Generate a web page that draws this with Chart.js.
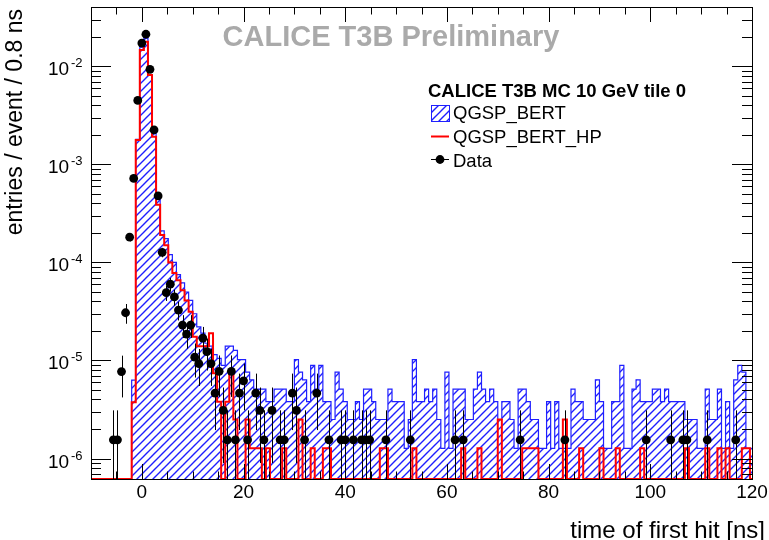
<!DOCTYPE html>
<html>
<head>
<meta charset="utf-8">
<title>T3B time of first hit</title>
<script src="https://cdn.jsdelivr.net/npm/chart.js@4.4.1/dist/chart.umd.min.js"></script>
<style>
  html, body { margin: 0; padding: 0; background: #fff; }
  canvas { display: block; }
</style>
</head>
<body>
<canvas id="myChart" width="769" height="540"></canvas>
<script>
  // time of first hit in tile 0, 10 GeV: two physics lists against data
  // histograms: 0.8 ns bins starting at -10 ns
  const binLow = -10;
  const binWidth = 0.8;

  const bertValues = [
    0, 0, 0, 0, 0, 0, 0, 0, 0, 0,
    6.3e-6, 1.8e-3, 1.57e-2, 1.94e-2, 8.2e-3, 2.2e-3, 4.4e-4, 2.1e-4, 1.75e-4, 1.2e-4,
    1.0e-4, 7.5e-5, 6.2e-5, 5.0e-5, 4.1e-5, 3.0e-5, 2.2e-5, 1.9e-5, 1.5e-5, 1.4e-5,
    1.15e-5, 1.05e-5, 8.9e-6, 1.4e-5, 1.4e-5, 1.27e-5, 1.02e-5, 1.02e-5, 7.6e-6, 6.35e-6,
    5.1e-6, 5.1e-6, 5.1e-6, 3.8e-6, 3.8e-6, 5.1e-6, 5.1e-6, 5.1e-6, 3.8e-6, 3.8e-6,
    1.02e-5, 7.6e-6, 6.35e-6, 3.8e-6, 8.9e-6, 5.1e-6, 8.9e-6, 3.8e-6, 3.8e-6, 2.5e-6,
    7.6e-6, 5.1e-6, 3.8e-6, 2.5e-6, 2.5e-6, 3.8e-6, 2.5e-6, 5.1e-6, 5.1e-6, 3.8e-6,
    2.5e-6, 2.5e-6, 2.5e-6, 5.1e-6, 3.8e-6, 3.8e-6, 3.8e-6, 1.27e-6, 2.5e-6, 1.02e-5,
    3.8e-6, 3.8e-6, 5.1e-6, 3.8e-6, 5.1e-6, 2.5e-6, 1.27e-6, 7.6e-6, 1.27e-6, 5.1e-6,
    5.1e-6, 5.1e-6, 2.5e-6, 2.5e-6, 5.1e-6, 7.6e-6, 5.1e-6, 3.8e-6, 5.1e-6, 3.8e-6,
    2.5e-6, 3.8e-6, 3.8e-6, 2.5e-6, 1.27e-6, 5.1e-6, 5.1e-6, 3.8e-6, 2.5e-6, 2.5e-6,
    1.27e-6, 1.27e-6, 3.8e-6, 1.27e-6, 3.8e-6, 1.27e-6, 1.27e-6, 1.27e-6, 5.1e-6, 3.8e-6,
    3.8e-6, 2.5e-6, 2.5e-6, 2.5e-6, 6.35e-6, 3.8e-6, 1.27e-6, 1.27e-6, 3.8e-6, 3.8e-6,
    8.9e-6, 1.27e-6, 1.27e-6, 5.1e-6, 6.35e-6, 3.8e-6, 3.8e-6, 3.8e-6, 5.1e-6, 5.1e-6,
    3.8e-6, 5.1e-6, 3.8e-6, 3.8e-6, 3.8e-6, 3.8e-6, 2.5e-6, 2.5e-6, 2.5e-6, 1.27e-6,
    1.27e-6, 5.1e-6, 2.5e-6, 2.5e-6, 5.1e-6, 1.27e-6, 3.8e-6, 1.27e-6, 6.35e-6, 8.9e-6,
    7.6e-6, 1.27e-6, 1.27e-6
  ];

  const bertHpValues = [
    0, 0, 0, 0, 0, 0, 0, 0, 0, 0,
    3.75e-6, 1.78e-3, 1.47e-2, 1.79e-2, 8.2e-3, 1.92e-3, 3.87e-4, 1.91e-4, 1.5e-4, 1.0e-4,
    7.8e-5, 6.6e-5, 5.2e-5, 4.1e-5, 3.15e-5, 1.75e-5, 1.4e-5, 1.4e-5, 1.4e-5, 1.9e-5,
    7.4e-6, 3.8e-6, 0, 3.8e-6, 7.6e-6, 2.5e-6, 0, 0, 2.5e-6, 1.27e-6,
    1.27e-6, 1.27e-6, 0, 1.27e-6, 0, 0, 0, 1.27e-6, 0, 0,
    0, 2.5e-6, 0, 0, 1.27e-6, 0, 0, 1.27e-6, 1.27e-6, 0,
    0, 0, 0, 0, 0, 0, 0, 0, 0, 0,
    0, 1.27e-6, 1.27e-6, 0, 0, 0, 0, 0, 0, 1.27e-6,
    0, 0, 0, 0, 0, 0, 0, 0, 0, 0,
    0, 1.27e-6, 0, 0, 0, 1.27e-6, 0, 0, 0, 0,
    2.5e-6, 0, 0, 0, 0, 0, 1.27e-6, 1.27e-6, 1.27e-6, 1.27e-6,
    0, 0, 0, 0, 0, 0, 2.5e-6, 0, 0, 0,
    1.27e-6, 0, 0, 0, 0, 1.27e-6, 0, 0, 0, 1.27e-6,
    0, 0, 0, 0, 0, 1.27e-6, 0, 0, 0, 0,
    0, 0, 0, 0, 0, 0, 1.27e-6, 0, 0, 0,
    0, 1.27e-6, 0, 0, 1.27e-6, 0, 1.27e-6, 0, 0, 0,
    1.27e-6, 1.27e-6, 0
  ];

  // measured points (bin centre, value, error)
  const dataTimes = [
    -5.6, -4.8, -4.0, -3.2, -2.4, -1.6, -0.8, 0.0, 0.8, 1.6,
    2.4, 3.2, 4.0, 4.8, 5.6, 6.4, 7.2, 8.0, 8.8, 9.6,
    10.4, 11.2, 12.0, 12.8, 13.6, 14.4, 15.2, 16.0, 16.8, 17.6,
    18.4, 19.2, 20.0, 20.8, 22.4, 23.2, 24.0, 25.6, 27.2, 28.0,
    29.6, 30.4, 32.0, 34.4, 36.8, 39.2, 40.0, 41.6, 43.2, 44.0,
    44.8, 48.0, 52.8, 61.6, 63.2, 74.4, 83.2, 99.2, 104.0, 106.4,
    107.2, 111.2, 116.8
  ];
  const dataValues = [
    1.55e-6, 1.55e-6, 7.7e-6, 3.07e-5, 1.81e-4, 7.2e-4, 4.5e-3, 1.73e-2, 2.13e-2, 9.35e-3,
    2.25e-3, 4.78e-4, 1.27e-4, 4.92e-5, 6.0e-5, 4.45e-5, 3.27e-5, 2.3e-5, 1.86e-5, 2.3e-5,
    1.08e-5, 9.3e-6, 1.69e-5, 1.23e-5, 9.3e-6, 4.65e-6, 7.75e-6, 3.1e-6, 1.55e-6, 7.75e-6,
    1.55e-6, 4.65e-6, 6.2e-6, 1.55e-6, 4.65e-6, 3.1e-6, 1.55e-6, 3.1e-6, 1.55e-6, 1.55e-6,
    4.65e-6, 3.1e-6, 1.55e-6, 4.65e-6, 1.55e-6, 1.55e-6, 1.55e-6, 1.55e-6, 1.55e-6, 1.55e-6,
    1.55e-6, 1.55e-6, 1.55e-6, 1.55e-6, 1.55e-6, 1.55e-6, 1.55e-6, 1.55e-6, 1.55e-6, 1.55e-6,
    1.55e-6, 1.55e-6, 1.55e-6
  ];
  const dataErrors = [
    1.55e-6, 1.55e-6, 3.5e-6, 7.0e-6, 1.7e-5, 3.3e-5, 8.4e-5, 1.6e-4, 1.8e-4, 1.2e-4,
    5.9e-5, 2.7e-5, 1.4e-5, 8.7e-6, 9.6e-6, 8.3e-6, 7.1e-6, 6.0e-6, 5.4e-6, 6.0e-6,
    4.1e-6, 3.8e-6, 5.1e-6, 4.4e-6, 3.8e-6, 2.7e-6, 3.5e-6, 2.2e-6, 1.55e-6, 3.5e-6,
    1.55e-6, 2.7e-6, 3.1e-6, 1.55e-6, 2.7e-6, 2.2e-6, 1.55e-6, 2.2e-6, 1.55e-6, 1.55e-6,
    2.7e-6, 2.2e-6, 1.55e-6, 2.7e-6, 1.55e-6, 1.55e-6, 1.55e-6, 1.55e-6, 1.55e-6, 1.55e-6,
    1.55e-6, 1.55e-6, 1.55e-6, 1.55e-6, 1.55e-6, 1.55e-6, 1.55e-6, 1.55e-6, 1.55e-6, 1.55e-6,
    1.55e-6, 1.55e-6, 1.55e-6
  ];

  const xTicks = [0, 20, 40, 60, 80, 100, 120];
  const yDecades = [-6, -5, -4, -3, -2];

  const yMin = 6.18e-7;
  const yMax = 0.0404;
  const FONT = '"Liberation Sans", Arial, Helvetica, sans-serif';
  const BLUE = '#1f1fff';

  // two points per bin so the outline steps like a ROOT histogram;
  // empty bins sit on the axis floor
  function histPoints(values) {
    const pts = [];
    values.forEach((v, i) => {
      const y = v > 0 ? v : yMin;
      pts.push({ x: binLow + i * binWidth, y: y });
      pts.push({ x: binLow + (i + 1) * binWidth, y: y });
    });
    return pts;
  }

  // "/" hatching, 8 px period, soft-edged line
  function hatch(color) {
    const c = document.createElement('canvas');
    c.width = 8;
    c.height = 8;
    const g = c.getContext('2d');
    g.strokeStyle = color;
    g.lineWidth = 1.4;
    g.lineCap = 'square';
    g.beginPath();
    g.moveTo(-2, 10); g.lineTo(10, -2);
    g.moveTo(-2, 2); g.lineTo(2, -2);
    g.moveTo(6, 10); g.lineTo(10, 6);
    g.stroke();
    return g.createPattern(c, 'repeat');
  }

  const errorBars = {
    id: 'errorBars',
    beforeDatasetDraw(chart, args) {
      if (args.index !== 0) return;
      const { ctx, chartArea: a, scales: { x, y } } = chart;
      ctx.save();
      ctx.beginPath();
      ctx.rect(a.left, a.top, a.right - a.left, a.bottom - a.top);
      ctx.clip();
      ctx.strokeStyle = '#000';
      ctx.lineWidth = 1;
      ctx.beginPath();
      dataTimes.forEach((t, i) => {
        const px = Math.round(x.getPixelForValue(t)) + 0.5;
        const lo = dataValues[i] - dataErrors[i];
        const yLo = lo > 0 ? y.getPixelForValue(lo) : a.bottom;
        const yHi = y.getPixelForValue(dataValues[i] + dataErrors[i]);
        ctx.moveTo(px, yLo);
        ctx.lineTo(px, yHi);
      });
      ctx.stroke();
      ctx.restore();
    }
  };

  const frameAndText = {
    id: 'frameAndText',
    afterDraw(chart) {
      const { ctx, chartArea: a, scales: { x, y } } = chart;
      ctx.save();
      ctx.strokeStyle = '#000';
      ctx.lineWidth = 1;
      ctx.strokeRect(a.left + 0.5, a.top + 0.5, a.right - a.left, a.bottom - a.top);

      ctx.beginPath();
      for (let t = -5; t < 120; t += 5) {
        const px = Math.round(x.getPixelForValue(t)) + 0.5;
        const len = t % 20 === 0 ? 15 : 7.5;
        ctx.moveTo(px, a.bottom); ctx.lineTo(px, a.bottom - len);
        ctx.moveTo(px, a.top); ctx.lineTo(px, a.top + len);
      }
      for (let d = -7; d <= -1; d++) {
        for (let m = 1; m <= 9; m++) {
          const v = m * Math.pow(10, d);
          if (v <= yMin * 1.01 || v >= yMax * 0.99) continue;
          const py = Math.round(y.getPixelForValue(v)) + 0.5;
          const len = m === 1 ? 20 : 10;
          ctx.moveTo(a.left, py); ctx.lineTo(a.left + len, py);
          ctx.moveTo(a.right, py); ctx.lineTo(a.right - len, py);
        }
      }
      ctx.stroke();

      ctx.fillStyle = '#000';
      ctx.font = '19px ' + FONT;
      ctx.textAlign = 'center';
      ctx.textBaseline = 'alphabetic';
      xTicks.forEach(t => ctx.fillText(String(t), x.getPixelForValue(t), 498));

      ctx.textAlign = 'left';
      yDecades.forEach(d => {
        const py = y.getPixelForValue(Math.pow(10, d));
        ctx.font = '19px ' + FONT;
        ctx.fillText('10', 48, py + 9);
        ctx.font = '13px ' + FONT;
        ctx.fillText(String(d), 71, py + 1);
      });

      // axis titles
      ctx.font = '24px ' + FONT;
      ctx.textAlign = 'right';
      ctx.fillText('time of first hit [ns]', 765, 538);
      ctx.save();
      ctx.translate(22, a.top + 2);
      ctx.rotate(-Math.PI / 2);
      ctx.font = '23px ' + FONT;
      ctx.fillText('entries / event / 0.8 ns', 0, 0);
      ctx.restore();

      // preliminary stamp
      ctx.font = 'bold 29px ' + FONT;
      ctx.textAlign = 'center';
      ctx.fillStyle = '#aaaaaa';
      ctx.fillText('CALICE T3B Preliminary', 391, 46);

      // legend
      ctx.fillStyle = '#000';
      ctx.textAlign = 'left';
      ctx.font = 'bold 18.5px ' + FONT;
      ctx.fillText('CALICE T3B MC 10 GeV tile 0', 428, 96.5);
      ctx.font = '18.5px ' + FONT;
      ctx.fillText('QGSP_BERT', 453, 118.5);
      ctx.fillText('QGSP_BERT_HP', 453, 143);
      ctx.fillText('Data', 453, 166.5);

      ctx.fillStyle = hatch(BLUE);
      ctx.fillRect(431, 105, 18, 16);
      ctx.strokeStyle = BLUE;
      ctx.strokeRect(431.5, 105.5, 18, 16);

      ctx.strokeStyle = '#ff0000';
      ctx.lineWidth = 2;
      ctx.beginPath();
      ctx.moveTo(431, 136.5); ctx.lineTo(449, 136.5);
      ctx.stroke();

      ctx.strokeStyle = '#000';
      ctx.lineWidth = 1;
      ctx.beginPath();
      ctx.moveTo(431, 159.5); ctx.lineTo(449, 159.5);
      ctx.stroke();
      ctx.fillStyle = '#000';
      ctx.beginPath();
      ctx.arc(440, 159.5, 4.4, 0, Math.PI * 2);
      ctx.fill();
      ctx.restore();
    }
  };

  const ctx = document.getElementById('myChart').getContext('2d');
  const myChart = new Chart(ctx, {
    type: 'line',
    data: {
      datasets: [
        {
          type: 'scatter',
          label: 'Data',
          data: dataTimes.map((t, i) => ({ x: t, y: dataValues[i] })),
          pointRadius: 4.4,
          pointBackgroundColor: '#000',
          pointBorderWidth: 0,
          showLine: false
        },
        {
          label: 'QGSP_BERT_HP',
          data: histPoints(bertHpValues),
          borderColor: '#ff0000',
          borderWidth: 2,
          pointRadius: 0,
          fill: false
        },
        {
          label: 'QGSP_BERT',
          data: histPoints(bertValues),
          borderColor: BLUE,
          borderWidth: 1.2,
          backgroundColor: hatch(BLUE),
          fill: 'start',
          pointRadius: 0
        }
      ]
    },
    options: {
      responsive: false,
      animation: false,
      devicePixelRatio: 1,
      events: [],
      layout: { padding: { left: 91, right: 17, top: 7, bottom: 61 } },
      elements: { line: { tension: 0 } },
      plugins: {
        legend: { display: false },
        tooltip: { enabled: false }
      },
      scales: {
        x: { type: 'linear', min: -10, max: 120, display: false },
        y: { type: 'logarithmic', min: yMin, max: yMax, display: false }
      }
    },
    plugins: [errorBars, frameAndText]
  });
</script>
</body>
</html>
